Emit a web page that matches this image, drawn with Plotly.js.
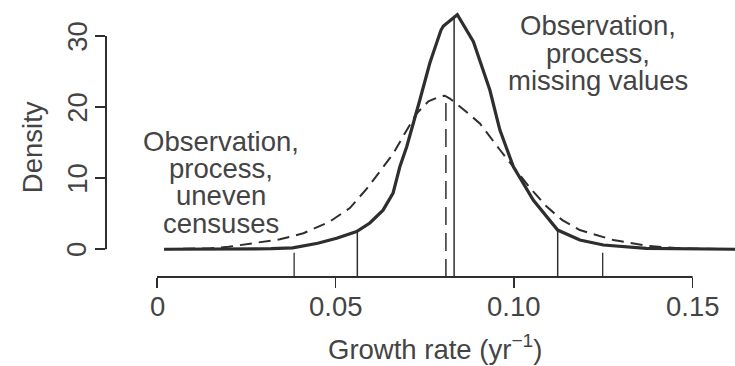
<!DOCTYPE html>
<html>
<head>
<meta charset="utf-8">
<script src="https://cdn.plot.ly/plotly-3.0.1.min.js"></script>
<style>html,body{margin:0;padding:0;background:#fff;}#chart{width:735px;height:366px;}</style>
</head>
<body>
<div id="chart"></div>
<script>
// ---- data ----
const xTickVals = [0, 0.05, 0.10, 0.15];
const xTickText = ['0', '0.05', '0.10', '0.15'];
const yTickVals = [0, 10, 20, 30];
const yTickText = ['0', '10', '20', '30'];

// Observation, process, missing values (solid)
const solidX = [0.002, 0.015, 0.026, 0.032, 0.038, 0.045, 0.0503, 0.0559, 0.0596, 0.0633, 0.0661, 0.068, 0.0699, 0.0718, 0.0736, 0.0764, 0.0795, 0.0802, 0.0841, 0.0886, 0.0904, 0.0932, 0.0960, 0.0998, 0.1054, 0.1122, 0.1184, 0.125, 0.137, 0.148, 0.162];
const solidY = [0, 0, 0.02, 0.08, 0.2, 0.85, 1.55, 2.5, 3.7, 5.5, 7.9, 11.6, 14.4, 17.7, 21.0, 26.2, 30.8, 31.4, 33.0, 29.2, 26.5, 22.4, 16.8, 11.6, 6.9, 2.7, 1.3, 0.6, 0.14, 0.03, 0];

// Observation, process, uneven censuses (dashed)
const dashedX = [0.002, 0.010, 0.015, 0.020, 0.026, 0.0344, 0.041, 0.0484, 0.054, 0.0587, 0.0625, 0.0662, 0.0695, 0.0727, 0.0760, 0.0792, 0.0806, 0.082, 0.086, 0.0904, 0.096, 0.0998, 0.1045, 0.1091, 0.1135, 0.1184, 0.1278, 0.137, 0.1464, 0.162];
const dashedY = [0, 0.05, 0.15, 0.35, 0.75, 1.4, 2.25, 3.9, 5.8, 8.5, 11.0, 13.5, 16.4, 19.1, 20.8, 21.5, 21.6, 21.2, 19.6, 17.7, 14.0, 11.6, 8.6, 6.0, 4.1, 2.7, 1.3, 0.5, 0.14, 0];

// marker segments (x position, top height)
const solidMarkX = [0.0561, 0.0832, 0.1122];
const solidMarkTop = [2.7, 32.5, 2.7];
const dashedMarkX = [0.0809];
const dashedMarkTop = [21.4];
const thinMarkX = [0.0384, 0.1248];
const thinMarkTop = [-0.5, -0.5];

const leftLabel = ['Observation,', 'process,', 'uneven', 'censuses'];
const rightLabel = ['Observation,', 'process,', 'missing values'];
const xTitle = 'Growth rate (yr<sup>\u22121</sup>)';
const yTitle = 'Density';

// ---- layout constants ----
const yRange = [-3.9, 34.36];
const xRange = [-0.01428, 0.16185];
const ink = '#2e2e2e';
const txt = '#444444';
const FONT = 'Liberation Sans, Arial, Helvetica, sans-serif';
const FS = 27.5;
const tf = {family: FONT, size: FS, color: txt};

function segs(xs, tops) {
  const x = [], y = [];
  xs.forEach((v, i) => { x.push(v, v, null); y.push(yRange[0], tops[i], null); });
  return {x, y};
}
const sm = segs(solidMarkX, solidMarkTop);
const dm = segs(dashedMarkX, dashedMarkTop);
const tm = segs(thinMarkX, thinMarkTop);

const traces = [
  {x: sm.x, y: sm.y, mode: 'lines', line: {color: ink, width: 1.5}, hoverinfo: 'skip', showlegend: false},
  {x: tm.x, y: tm.y, mode: 'lines', line: {color: ink, width: 1.3}, hoverinfo: 'skip', showlegend: false},
  {x: dm.x, y: dm.y, mode: 'lines', line: {color: ink, width: 1.5, dash: '18px,8px'}, hoverinfo: 'skip', showlegend: false},
  {x: dashedX, y: dashedY, mode: 'lines', line: {color: ink, width: 2, dash: '12px,7px'}, showlegend: false},
  {x: solidX, y: solidY, mode: 'lines', line: {color: ink, width: 3.2}, showlegend: false}
];

const annotations = [];
const leftYs = [15.19, 11.35, 7.51, 3.66];
leftLabel.forEach((t, i) => annotations.push({text: t, x: 0.0179, y: leftYs[i], xref: 'x', yref: 'y', showarrow: false, xanchor: 'center', yanchor: 'middle', font: tf}));
const rightYs = [31.5, 27.6, 23.7];
rightLabel.forEach((t, i) => annotations.push({text: t, x: 0.1236, y: rightYs[i], xref: 'x', yref: 'y', showarrow: false, xanchor: 'center', yanchor: 'middle', font: tf}));
// tick labels
xTickVals.forEach((v, i) => annotations.push({text: xTickText[i], x: v, y: -0.109, xref: 'x', yref: 'paper', showarrow: false, xanchor: 'center', yanchor: 'middle', font: tf}));
yTickVals.forEach((v, i) => annotations.push({text: yTickText[i], x: -0.0466, y: v, xref: 'paper', yref: 'y', showarrow: false, textangle: -90, xanchor: 'center', yanchor: 'middle', font: tf}));
// axis titles
annotations.push({text: xTitle, x: 0.0781, y: -0.33, xref: 'x', yref: 'paper', showarrow: false, xanchor: 'center', yanchor: 'bottom', font: tf});
annotations.push({text: yTitle, x: -0.1156, y: 0.4785, xref: 'paper', yref: 'paper', showarrow: false, textangle: -90, xanchor: 'center', yanchor: 'middle', font: tf});

const layout = {
  width: 735, height: 366,
  margin: {l: 106, r: 0, t: 5, b: 89, pad: 0},
  paper_bgcolor: '#fff', plot_bgcolor: '#fff',
  showlegend: false,
  xaxis: {range: xRange, showgrid: false, zeroline: false, showline: false,
    tickmode: 'array', tickvals: xTickVals, showticklabels: false,
    ticks: 'outside', ticklen: 10, tickwidth: 1.6, tickcolor: ink},
  yaxis: {range: yRange, showgrid: false, zeroline: false, showline: false,
    tickmode: 'array', tickvals: yTickVals, showticklabels: false,
    ticks: 'outside', ticklen: 10, tickwidth: 1.6, tickcolor: ink},
  shapes: [
    {type: 'line', xref: 'x', yref: 'paper', x0: xTickVals[0], x1: xTickVals[xTickVals.length - 1], y0: 0, y1: 0, line: {color: ink, width: 2}},
    {type: 'line', xref: 'paper', yref: 'y', x0: 0, x1: 0, y0: yTickVals[0], y1: yTickVals[yTickVals.length - 1], line: {color: ink, width: 2}}
  ],
  annotations: annotations
};

Plotly.newPlot('chart', traces, layout, {displayModeBar: false, staticPlot: true});
</script>
</body>
</html>
